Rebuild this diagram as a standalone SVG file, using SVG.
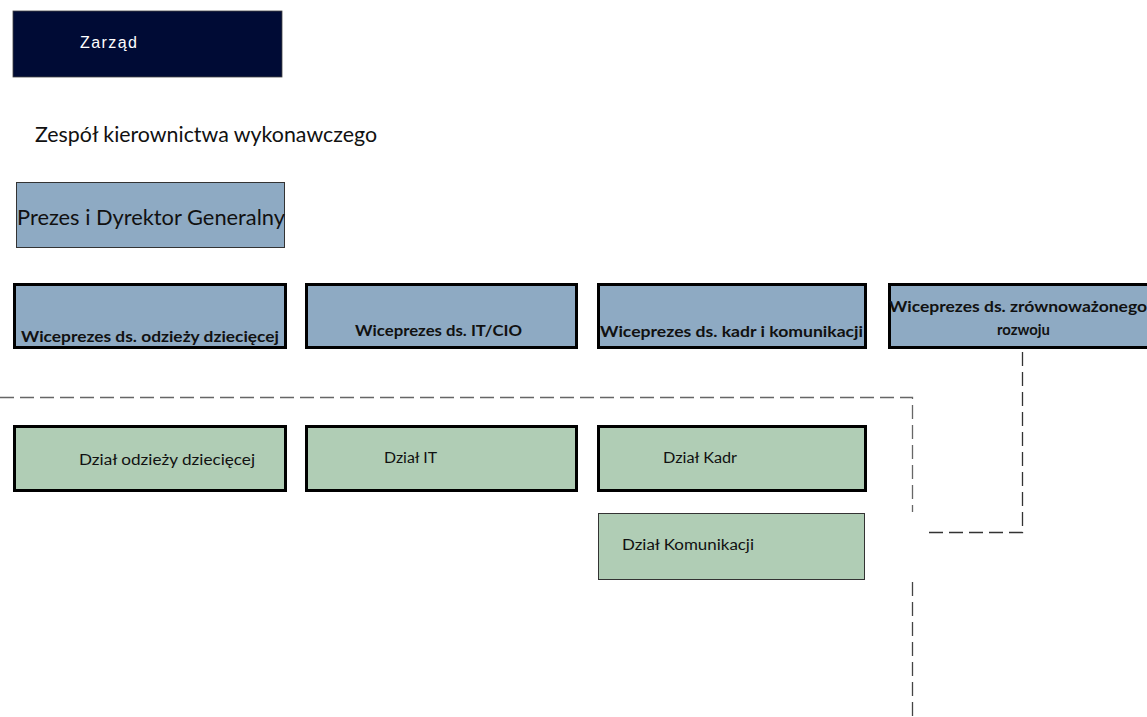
<svg xmlns="http://www.w3.org/2000/svg" width="1147" height="717" viewBox="0 0 1147 717">
<style>
.sans{font-family:Lato,"Open Sans","Liberation Sans",sans-serif;fill:#111}
.arial{font-family:"Liberation Sans",Arial,sans-serif}
.vp{fill:#8EAAC3;stroke:#000;stroke-width:3}
.dept{fill:#B0CDB5;stroke:#000;stroke-width:3}
.dept-thin{fill:#B0CDB5;stroke:#333;stroke-width:1}
.bold{font-weight:bold;font-size:15.5px}
.reg{font-size:15.5px}
.dash{fill:none;stroke-width:1.3;stroke-dasharray:14 6}
</style>
<rect width="1147" height="717" fill="#fff"/>
<g id="zarzad">
<rect x="13" y="11" width="269" height="66" fill="#000B35" stroke="#444" stroke-width="0.8"/>
<text x="80" y="48" class="arial" font-size="16" fill="#fff" textLength="57">Zarząd</text>
</g>
<g id="zespol">
<text x="35" y="142" class="sans" font-size="21" textLength="342" lengthAdjust="spacingAndGlyphs">Zespół kierownictwa wykonawczego</text>
</g>
<g id="prezes">
<rect x="16.5" y="182.5" width="268" height="65" fill="#8EAAC3" stroke="#333" stroke-width="1"/>
<text x="17" y="225" class="sans" font-size="21" textLength="268" lengthAdjust="spacingAndGlyphs">Prezes i Dyrektor Generalny</text>
</g>
<g id="vp-odziez">
<rect x="14.5" y="284.5" width="271" height="63" class="vp"/>
<text x="21" y="342" class="sans bold" textLength="258" lengthAdjust="spacingAndGlyphs">Wiceprezes ds. odzieży dziecięcej</text>
</g>
<g id="vp-it">
<rect x="306.5" y="284.5" width="270" height="63" class="vp"/>
<text x="355" y="336" class="sans bold" textLength="167" lengthAdjust="spacingAndGlyphs">Wiceprezes ds. IT/CIO</text>
</g>
<g id="vp-kadr">
<rect x="598.5" y="284.5" width="267" height="63" class="vp"/>
<text x="600" y="337" class="sans bold" textLength="263" lengthAdjust="spacingAndGlyphs">Wiceprezes ds. kadr i komunikacji</text>
</g>
<g id="vp-zrownowazony">
<rect x="889.5" y="284.5" width="262" height="63" class="vp"/>
<text x="889" y="312" class="sans bold" textLength="258" lengthAdjust="spacingAndGlyphs">Wiceprezes ds. zrównoważonego</text>
<text x="997" y="335" class="sans bold" textLength="53" lengthAdjust="spacingAndGlyphs">rozwoju</text>
</g>
<g id="dzial-odziez">
<rect x="14.5" y="426.5" width="271" height="64" class="dept"/>
<text x="79" y="465" class="sans reg" textLength="176" lengthAdjust="spacingAndGlyphs">Dział odzieży dziecięcej</text>
</g>
<g id="dzial-it">
<rect x="306.5" y="426.5" width="270" height="64" class="dept"/>
<text x="384" y="463" class="sans reg" textLength="53" lengthAdjust="spacingAndGlyphs">Dział IT</text>
</g>
<g id="dzial-kadr">
<rect x="598.5" y="426.5" width="267" height="64" class="dept"/>
<text x="663" y="463" class="sans reg" textLength="74" lengthAdjust="spacingAndGlyphs">Dział Kadr</text>
</g>
<g id="dzial-komunikacji">
<rect x="598.5" y="513.5" width="266" height="66" class="dept-thin"/>
<text x="622" y="550" class="sans reg" textLength="132" lengthAdjust="spacingAndGlyphs">Dział Komunikacji</text>
</g>
<g id="connectors">
<path class="dash" stroke="#666" d="M0 397.5 H912.5 V512"/>
<path class="dash" stroke="#444" d="M912.5 582 V717"/>
<path class="dash" stroke="#333" d="M1022.5 352 V532.5 H925"/>
</g>
</svg>
